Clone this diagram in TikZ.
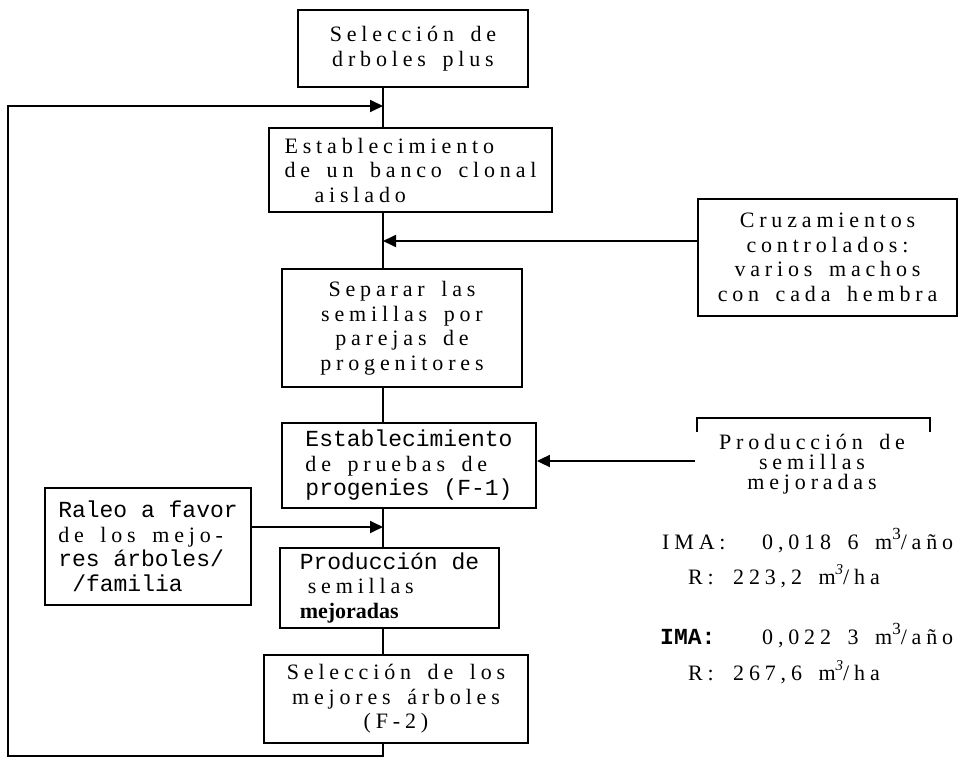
\documentclass[tikz,border=0pt]{standalone}
\usepackage{fontspec}
\setmainfont{Liberation Serif}
\newfontfamily\tracked{Liberation Serif}[LetterSpace=22.0,WordSpace=1.6]
\newfontfamily\typew{Liberation Mono}
\usetikzlibrary{positioning,calc,arrows.meta}

\newcommand{\srf}{\tracked\fontsize{22}{24.5}\selectfont}
\newcommand{\twf}{\typew\fontsize{23}{24.5}\selectfont}
\newcommand{\cube}{\raisebox{0.42em}{\fontsize{17}{17}\selectfont 3}}
\newcommand{\cubeit}{\raisebox{0.42em}{\fontsize{15}{15}\selectfont\itshape 3}}

\tikzset{
  line/.style={line width=1.8pt},
  arr/.style={line, -{Triangle[length=13pt,width=12pt]}},
  box/.style={draw, line width=1.8pt, inner sep=0pt, align=center, font=\srf},
  txt/.style={inner sep=0pt, font=\srf}
}

\begin{document}
\begin{tikzpicture}[x=1pt,y=-1pt]
    \useasboundingbox (0,0) rectangle (969,762);

    % main column
    \node[box, minimum width=230pt, minimum height=77pt] (plus) at (413,48.5) {Selección de\\drboles plus};
    \node[box, minimum width=283pt, minimum height=84pt, align=left] (banco) at (410.5,170) {Establecimiento\\de un banco clonal\\\hspace*{30pt}aislado};
    \node[box, minimum width=240pt, minimum height=118pt] (separar) at (402,328) {Separar las\\semillas por\\parejas de\\progenitores};
    \node[box, minimum width=254pt, minimum height=85pt, align=left] (pruebas) at (409,465.5) {{\twf Establecimiento}\\de pruebas de\\{\twf progenies (F-1)}};
    \node[box, minimum width=219pt, minimum height=80pt, align=left] (semillas) at (389.5,588) {{\twf Producción de}\\\hspace*{8pt}semillas\\{\rmfamily\bfseries mejoradas}};
    \node[box, minimum width=264pt, minimum height=88pt] (mejores) at (396,699) {Selección de los\\mejores árboles\\(F-2)};

    % side boxes
    \node[box, minimum width=206pt, minimum height=117pt, align=left] (raleo) at (148,546.5) {{\twf Raleo a favor}\\de los mejo-\\{\twf res árboles/}\\{\twf\hspace*{14pt}/familia}};
    \node[box, minimum width=259pt, minimum height=117pt] (cruz) at (827.5,257.5) {Cruzamientos\\controlados:\\varios machos\\con cada hembra};
    \node[txt, align=center, font=\tracked\fontsize{22}{20}\selectfont] (prod) at (812,464) {Producción de\\semillas\\mejoradas};
    \draw[line] (697,432) -- (697,418) -- (930,418) -- (930,432);

    % yields
    \node[txt, anchor=base west] (ima1) at (662,549) {IMA:};
    \node[txt, anchor=base west] (val1) at (762,549) {0,018 6 m\cube/año};
    \node[txt, anchor=base west] (r1) at (688,584) {R:};
    \node[txt, anchor=base west] (rv1) at (733,584) {223,2 m\cubeit/ha};
    \node[txt, anchor=base west, font=\twf\bfseries] (ima2) at (660,644) {IMA:};
    \node[txt, anchor=base west] (val2) at (762,644) {0,022 3 m\cube/año};
    \node[txt, anchor=base west] (r2) at (688,680) {R:};
    \node[txt, anchor=base west] (rv2) at (733,680) {267,6 m\cubeit/ha};

    % spine
    \coordinate (sp) at (383,0);
    \draw[line] (plus.south -| sp) -- (banco.north -| sp);
    \draw[line] (banco.south -| sp) -- (separar.north -| sp);
    \draw[line] (separar.south -| sp) -- (pruebas.north -| sp);
    \draw[line] (pruebas.south -| sp) -- (semillas.north -| sp);
    \draw[line] (semillas.south -| sp) -- (mejores.north -| sp);

    % loop back to the top
    \coordinate (lb) at (8,756);
    \coordinate (lt) at (8,106);
    \draw[arr] (mejores.south -| sp) |- (lb) -- (lt) -- (lt -| sp);

    % inputs
    \coordinate (cz) at (0,241);
    \draw[arr] (cruz.west |- cz) -- (sp |- cz);
    \coordinate (pz) at (695,461);
    \draw[arr] (pz) -- (pz -| pruebas.east);
    \coordinate (rz) at (0,527);
    \draw[arr] (raleo.east |- rz) -- (sp |- rz);
\end{tikzpicture}
\end{document}
